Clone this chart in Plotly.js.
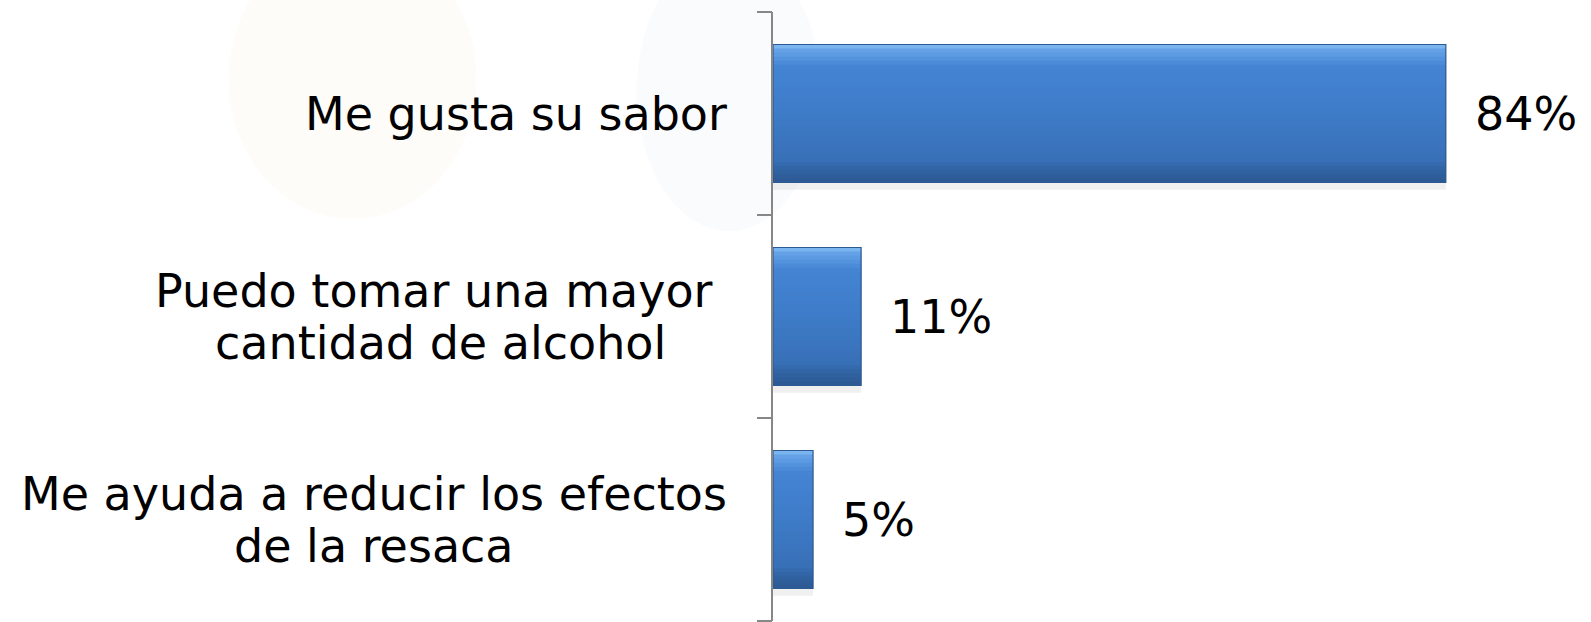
<!DOCTYPE html>
<html>
<head>
<meta charset="utf-8">
<script src="https://cdn.plot.ly/plotly-3.0.1.min.js"></script>
<style>
  html, body { margin: 0; padding: 0; background: #ffffff; }
  #chart { width: 1591px; height: 622px; }
</style>
</head>
<body>
<div id="chart"></div>
<script>
// ---- data ----
const categories = [
  "Me gusta su sabor",
  "Puedo tomar una mayor\u00a0<br>cantidad de alcohol",
  "Me ayuda a reducir los efectos<br>de la resaca"
];
const values = [84, 11, 5];
const valueLabels = ["84%", "11%", "5%"];

// ---- style ----
const FONT = "DejaVu Sans, Verdana, sans-serif";
const FS = 46;
const LINE_H = 52;
const LABEL_GAP = 46;   // distance from axis line to right edge of category label
const BAR_W = 0.68;

const canvas = document.createElement("canvas");
const ctx = canvas.getContext("2d");
ctx.font = FS + "px 'DejaVu Sans'";

const annotations = [];
categories.forEach(function (cat) {
  const lines = cat.split("<br>");
  const blockW = Math.max.apply(null, lines.map(function (l) { return ctx.measureText(l).width; }));
  lines.forEach(function (line, j) {
    annotations.push({
      xref: "paper", yref: "y",
      x: 0, y: cat,
      xanchor: "center", yanchor: "middle",
      xshift: -(LABEL_GAP + blockW / 2),
      yshift: ((lines.length - 1) / 2 - j) * LINE_H,
      text: line, showarrow: false,
      font: { family: FONT, size: FS, color: "#000000" }
    });
  });
});
values.forEach(function (v, i) {
  annotations.push({
    xref: "x", yref: "y",
    x: v, y: categories[i],
    xanchor: "left", yanchor: "middle",
    xshift: 27,
    text: valueLabels[i], showarrow: false,
    font: { family: FONT, size: FS, color: "#000000" }
  });
});

// vertical gradient of the bar (top -> bottom), built as thin overlaid bar slices
const gradStops = [
  [0.00, [140, 196, 244]],
  [0.03, [104, 165, 233]],
  [0.10, [84, 147, 222]],
  [0.16, [68, 132, 211]],
  [0.50, [62, 123, 199]],
  [0.84, [56, 112, 184]],
  [0.90, [50, 100, 164]],
  [1.00, [44, 88, 146]]
];
function gradColor(t) {
  for (let k = 1; k < gradStops.length; k++) {
    if (t <= gradStops[k][0]) {
      const a = gradStops[k - 1], b = gradStops[k];
      const f = (t - a[0]) / (b[0] - a[0]);
      const c = a[1].map(function (v, m) { return Math.round(v + (b[1][m] - v) * f); });
      return "rgb(" + c.join(",") + ")";
    }
  }
  return "rgb(44,88,146)";
}

const traces = [];
// soft shadow under each bar
traces.push({
  type: "bar", orientation: "h", x: values, y: categories,
  width: 0.035, offset: BAR_W / 2,
  marker: { color: "rgba(0,0,0,0.06)", line: { width: 0 } }, hoverinfo: "skip"
});
const N = 34;
const SL = BAR_W / N;
for (let s = 0; s < N; s++) {
  const isLast = s === N - 1;
  traces.push({
    type: "bar", orientation: "h", x: values, y: categories,
    width: isLast ? SL : SL * 2, offset: -BAR_W / 2 + s * SL,
    marker: { color: gradColor((s + 0.5) / N), line: { width: 0 } },
    hoverinfo: "skip"
  });
}
// outline
traces.push({
  type: "bar", orientation: "h", x: values, y: categories,
  width: BAR_W, offset: -BAR_W / 2,
  marker: { color: "rgba(0,0,0,0)", line: { width: 1.2, color: "#2c5a92" } },
  hoverinfo: "skip"
});
// boundary tick marks on an overlaid numeric axis
traces.push({
  type: "scatter", mode: "markers", x: [null], y: [null], yaxis: "y2",
  hoverinfo: "skip", showlegend: false
});

const shapes = [
  { type: "circle", xref: "paper", yref: "paper", layer: "below",
    x0: -0.68, x1: -0.37, y0: 0.66, y1: 1.12,
    fillcolor: "#fefcf8", line: { width: 0 } },
  { type: "circle", xref: "paper", yref: "paper", layer: "below",
    x0: -0.17, x1: 0.06, y0: 0.64, y1: 1.10,
    fillcolor: "#fafbfd", line: { width: 0 } }
];

const layout = {
  width: 1591, height: 622,
  margin: { l: 773, r: 17, t: 12, b: 1, pad: 0 },
  paper_bgcolor: "#ffffff",
  plot_bgcolor: "rgba(0,0,0,0)",
  showlegend: false,
  barmode: "overlay",
  xaxis: {
    range: [0, 100],
    visible: false,
    fixedrange: true
  },
  yaxis: {
    type: "category",
    range: [2.5, -0.5],
    showline: true, linecolor: "#878787", linewidth: 2.5,
    ticks: "",
    showticklabels: false,
    showgrid: false, zeroline: false,
    layer: "above traces",
    fixedrange: true
  },
  yaxis2: {
    overlaying: "y", side: "left",
    range: [2.5, -0.5],
    tickmode: "array", tickvals: [-0.5, 0.5, 1.5, 2.5],
    ticks: "outside", ticklen: 15, tickwidth: 2.5, tickcolor: "#878787",
    showticklabels: false, showline: false, showgrid: false, zeroline: false,
    fixedrange: true
  },
  shapes: shapes,
  annotations: annotations
};

Plotly.newPlot("chart", traces, layout, { displayModeBar: false, staticPlot: true });
</script>
</body>
</html>
